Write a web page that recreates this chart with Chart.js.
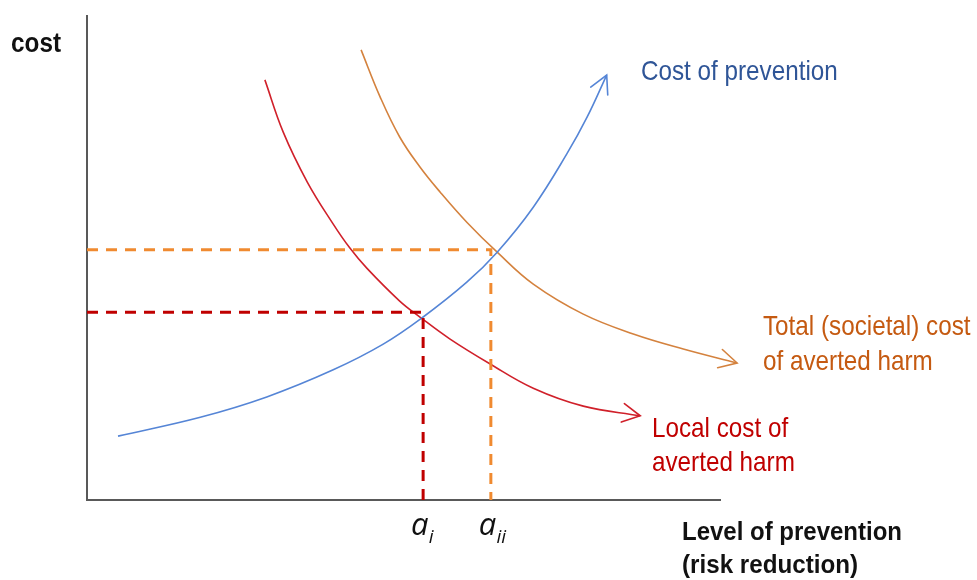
<!DOCTYPE html>
<html>
<head>
<meta charset="utf-8">
<script src="https://cdn.jsdelivr.net/npm/chart.js@4.4.0/dist/chart.umd.min.js"></script>
<style>
  html, body { margin: 0; padding: 0; background: #ffffff; }
  #wrap { width: 977px; height: 580px; }
</style>
</head>
<body>
<div id="wrap"><canvas id="c" width="977" height="580"></canvas></div>
<script>
// ---- Data (arbitrary 0-100 scale on both axes) ----
const preventionX = [4.9, 17.9, 28.4, 38.9, 46.8, 52.9, 60.0, 64.8, 70.5, 75.8, 79.0, 82.1];
const preventionY = [13.2, 17.1, 21.3, 26.9, 32.2, 37.6, 45.0, 51.2, 60.5, 71.5, 79.1, 87.8];

const localHarmX = [28.1, 31.0, 34.8, 38.9, 41.5, 44.2, 49.4, 52.6, 57.3, 63.7, 70.5, 78.4, 87.4];
const localHarmY = [86.8, 76.0, 65.7, 57.0, 52.1, 47.9, 41.1, 37.8, 33.3, 28.1, 23.1, 19.4, 17.4];

const totalHarmX = [43.3, 46.3, 49.4, 52.6, 55.8, 60.0, 64.8, 70.5, 78.4, 86.3, 94.2, 102.7];
const totalHarmY = [93.0, 83.3, 75.0, 68.8, 63.6, 57.4, 51.2, 44.6, 38.4, 34.3, 31.2, 28.3];

// optimum levels of prevention (a_i, a_ii) and the matching cost levels
const optimumSubscripts = ['i', 'ii'];
const optimumX = [53.1, 63.8];
const optimumCost = [38.8, 51.7];

const seriesLabels = ['Cost of prevention', ['Total (societal) cost', 'of averted harm'], ['Local cost of', 'averted harm']];
const axisLabels = { y: 'cost', x: ['Level of prevention', '(risk reduction)'] };

// ---- Styles ----
const C = {
  blueLine: '#5585D6', blueText: '#2F5597',
  redLine: '#D0202A', redText: '#C00000', redDash: '#C00000',
  orangeLine: '#D4823E', orangeText: '#C55A11', orangeDash: '#F08A30',
  axis: '#595959'
};

const toPts = (xs, ys) => xs.map((x, i) => ({ x: x, y: ys[i] }));

const curve = (xs, ys, color) => ({
  data: toPts(xs, ys), showLine: true, borderColor: color, borderWidth: 1.6,
  pointRadius: 0, tension: 0.4, clip: false, arrow: true, fill: false
});
const dashed = (k, color) => ({
  data: [{ x: 0, y: optimumCost[k] }, { x: optimumX[k], y: optimumCost[k] }, { x: optimumX[k], y: 0 }],
  showLine: true, borderColor: color, borderWidth: 3, borderDash: [11, 8], borderCapStyle: 'butt',
  pointRadius: 0, tension: 0, clip: false, fill: false
});

const arrowPlugin = {
  id: 'arrows',
  afterDatasetsDraw(chart) {
    const ctx = chart.ctx;
    chart.data.datasets.forEach((ds, i) => {
      if (!ds.arrow) return;
      const pts = chart.getDatasetMeta(i).data;
      const last = pts[pts.length - 1];
      let dx = last.x - (last.cp1x ?? last.x), dy = last.y - (last.cp1y ?? last.y);
      if (Math.hypot(dx, dy) < 0.5) { const p = pts[pts.length - 2]; dx = last.x - p.x; dy = last.y - p.y; }
      const ang = Math.atan2(dy, dx), len = 20, spread = 28 * Math.PI / 180;
      ctx.save();
      ctx.strokeStyle = ds.borderColor; ctx.lineWidth = 1.6; ctx.lineCap = 'round';
      ctx.beginPath();
      ctx.moveTo(last.x - len * Math.cos(ang - spread), last.y - len * Math.sin(ang - spread));
      ctx.lineTo(last.x, last.y);
      ctx.lineTo(last.x - len * Math.cos(ang + spread), last.y - len * Math.sin(ang + spread));
      ctx.stroke();
      ctx.restore();
    });
  }
};

function fitText(ctx, text, x, y, width) {
  const w = ctx.measureText(text).width;
  ctx.save();
  ctx.translate(x, y);
  ctx.scale(width / w, 1);
  ctx.fillText(text, 0, 0);
  ctx.restore();
}

const labelPlugin = {
  id: 'labels',
  afterDraw(chart) {
    const ctx = chart.ctx, xs = chart.scales.x, ys = chart.scales.y;
    ctx.save();
    ctx.textBaseline = 'alphabetic'; ctx.textAlign = 'left';
    // axis titles
    ctx.fillStyle = '#111111';
    ctx.font = 'bold 27px "Liberation Sans", Arial, sans-serif';
    fitText(ctx, axisLabels.y, 11, 52, 50);
    ctx.font = 'bold 25px "Liberation Sans", Arial, sans-serif';
    fitText(ctx, axisLabels.x[0], 682, 540, 220);
    fitText(ctx, axisLabels.x[1], 682, 573, 176);
    // series labels
    ctx.font = '28px "Liberation Sans", Arial, sans-serif';
    const sx = 0.866;
    const put = (t, x, y) => fitText(ctx, t, x, y, ctx.measureText(t).width * sx);
    ctx.fillStyle = C.blueText;
    put(seriesLabels[0], 641, 80);
    ctx.fillStyle = C.orangeText;
    put(seriesLabels[1][0], 763, 335);
    put(seriesLabels[1][1], 763, 370);
    ctx.fillStyle = C.redText;
    put(seriesLabels[2][0], 652, 437);
    put(seriesLabels[2][1], 652, 471);
    // a_i, a_ii labels at the optimum positions
    ctx.fillStyle = '#111111';
    optimumX.forEach((v, k) => {
      const px = xs.getPixelForValue(v) - 12;
      const py = ys.getPixelForValue(0) + 35;
      ctx.font = 'italic 31px "Open Sans", "Noto Sans", sans-serif';
      ctx.fillText('a', px, py);
      const w = ctx.measureText('a').width;
      ctx.font = 'italic 19px "Open Sans", "Noto Sans", sans-serif';
      ctx.fillText(optimumSubscripts[k], px + w, py + 8);
    });
    ctx.restore();
  }
};

new Chart(document.getElementById('c'), {
  type: 'scatter',
  data: {
    datasets: [
      dashed(0, C.redDash),
      dashed(1, C.orangeDash),
      curve(preventionX, preventionY, C.blueLine),
      curve(totalHarmX, totalHarmY, C.orangeLine),
      curve(localHarmX, localHarmY, C.redLine)
    ]
  },
  options: {
    responsive: false, animation: false, devicePixelRatio: 1,
    layout: { padding: { left: 87, right: 257, top: 16, bottom: 80 } },
    plugins: { legend: { display: false }, tooltip: { enabled: false } },
    scales: {
      x: { type: 'linear', min: 0, max: 100, grid: { display: false, drawTicks: false },
           ticks: { display: false }, border: { display: true, color: C.axis, width: 2 } },
      y: { type: 'linear', min: 0, max: 100, grid: { display: false, drawTicks: false },
           ticks: { display: false }, border: { display: true, color: C.axis, width: 2 } }
    }
  },
  plugins: [arrowPlugin, labelPlugin]
});
</script>
</body>
</html>
